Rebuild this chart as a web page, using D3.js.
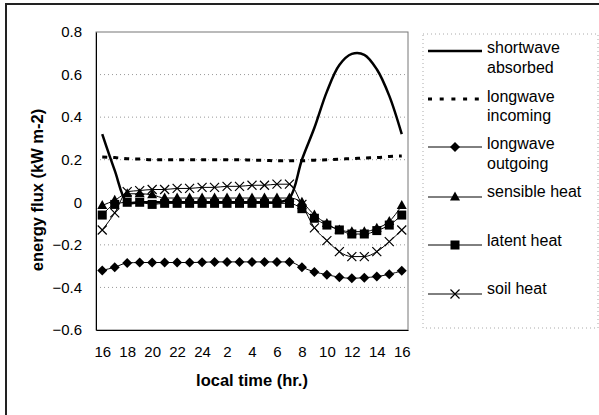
<!DOCTYPE html>
<html><head><meta charset="utf-8">
<script src="https://cdn.jsdelivr.net/npm/d3@7"></script>
<style>
html,body{margin:0;padding:0;background:#fff;}
text{font-family:"Liberation Sans",Arial,sans-serif;fill:#000;}
</style></head>
<body>
<svg id="c" width="599" height="415"></svg>
<script>
// ---- data ----
const hours = [16,17,18,19,20,21,22,23,24,1,2,3,4,5,6,7,8,9,10,11,12,13,14,15,16];
const shortwave = [0.32,0.15,0.0,0,0,0,0,0,0,0,0,0,0,0,0,0.02,0.2,0.35,0.52,0.645,0.697,0.693,0.625,0.50,0.32];
const longwaveIn = [0.213,0.21,0.205,0.203,0.2,0.2,0.2,0.2,0.2,0.2,0.2,0.2,0.198,0.197,0.195,0.195,0.195,0.198,0.2,0.203,0.205,0.208,0.21,0.215,0.218];
const longwaveOut = [-0.32,-0.305,-0.285,-0.283,-0.283,-0.283,-0.283,-0.283,-0.282,-0.28,-0.28,-0.28,-0.28,-0.28,-0.28,-0.28,-0.305,-0.327,-0.34,-0.352,-0.357,-0.354,-0.349,-0.338,-0.322];
const sensible = [-0.015,0.01,0.04,0.04,0.035,0.02,0.02,0.02,0.02,0.02,0.02,0.02,0.02,0.02,0.02,0.02,0.0,-0.06,-0.1,-0.13,-0.138,-0.138,-0.122,-0.09,-0.015];
const latent = [-0.06,-0.01,0,0,-0.01,-0.005,-0.005,-0.005,-0.005,-0.005,-0.005,-0.005,-0.005,-0.005,-0.005,-0.005,-0.03,-0.075,-0.107,-0.13,-0.149,-0.149,-0.133,-0.107,-0.06];
const soil = [-0.13,-0.05,0.05,0.055,0.06,0.06,0.065,0.065,0.07,0.07,0.075,0.075,0.08,0.08,0.085,0.085,-0.01,-0.12,-0.18,-0.232,-0.255,-0.255,-0.232,-0.185,-0.13];
const yTicks = [0.8,0.6,0.4,0.2,0,-0.2,-0.4,-0.6];
const gridVals = [0.6,0.4,0.2,-0.2,-0.4];
const seriesNames = [["shortwave","absorbed"],["longwave","incoming"],["longwave","outgoing"],["sensible heat"],["latent heat"],["soil heat"]];

// ---- layout ----
const svg = d3.select("#c");
const L=96,R=408,T=32,B=330;
const x = d3.scalePoint().domain(d3.range(hours.length)).range([L,R]).padding(0.5);
const y = d3.scaleLinear().domain([-0.6,0.8]).range([B,T]);

// outer frame (left & top visible)
svg.append("rect").attr("x",6).attr("y",4).attr("width",640).attr("height",460)
  .attr("fill","none").attr("stroke","#222").attr("stroke-width",2);

// gridlines
svg.append("g").selectAll("line").data(gridVals).join("line")
  .attr("x1",L).attr("x2",R).attr("y1",d=>y(d)).attr("y2",d=>y(d))
  .attr("stroke","#999").attr("stroke-width",1).attr("stroke-dasharray","1,3");

// plot border
svg.append("rect").attr("x",L).attr("y",T).attr("width",R-L).attr("height",B-T)
  .attr("fill","none").attr("stroke","#777").attr("stroke-width",1);

// axes
const ya = svg.append("g").attr("transform",`translate(${L},0)`)
  .call(d3.axisLeft(y).tickValues(yTicks).tickSize(0).tickPadding(14).tickFormat(d=>d===0?"0":d3.format(".1f")(d)));
ya.select(".domain").attr("stroke","#000");
ya.selectAll("text").style("font-size","15px");

const xa = svg.append("g").attr("transform",`translate(0,${B})`)
  .call(d3.axisBottom(x).tickValues(d3.range(0,hours.length,2)).tickSize(0).tickPadding(16).tickFormat(i=>hours[i]));
xa.select(".domain").attr("stroke","#000");
xa.selectAll("text").style("font-size","15px");

// axis titles
svg.append("text").attr("transform","translate(43,190) rotate(-90)").attr("text-anchor","middle")
  .style("font-size","16.5px").style("font-weight","bold").text("energy flux (kW m-2)");
svg.append("text").attr("x",252).attr("y",386).attr("text-anchor","middle")
  .style("font-size","16.5px").style("font-weight","bold").text("local time (hr.)");

// markers
function marker(g,type,cx,cy){
  if(type==="diamond"){
    g.append("path").attr("d",`M${cx},${cy-5}L${cx+5},${cy}L${cx},${cy+5}L${cx-5},${cy}Z`).attr("fill","#000");
  } else if(type==="triangle"){
    g.append("path").attr("d",`M${cx},${cy-5.5}L${cx+5},${cy+3.5}L${cx-5},${cy+3.5}Z`).attr("fill","#000");
  } else if(type==="square"){
    g.append("rect").attr("x",cx-4.5).attr("y",cy-4.5).attr("width",9).attr("height",9).attr("fill","#000");
  } else if(type==="x"){
    g.append("path").attr("d",`M${cx-4.5},${cy-4.5}L${cx+4.5},${cy+4.5}M${cx-4.5},${cy+4.5}L${cx+4.5},${cy-4.5}`)
      .attr("stroke","#000").attr("stroke-width",1.2).attr("fill","none");
  }
}

const series = [
  {v:shortwave, w:2.5, dash:null, m:null, c:d3.curveCatmullRom.alpha(0.5)},
  {v:longwaveIn, w:3, dash:"5,6", m:null, c:d3.curveMonotoneX},
  {v:longwaveOut, w:1, dash:null, m:"diamond", c:d3.curveMonotoneX},
  {v:sensible, w:1, dash:null, m:"triangle", c:d3.curveMonotoneX},
  {v:latent, w:1, dash:null, m:"square", c:d3.curveMonotoneX},
  {v:soil, w:1, dash:null, m:"x", c:d3.curveMonotoneX}
];
const plot = svg.append("g");
series.forEach(s=>{
  const line = d3.line().x((d,i)=>x(i)).y(d=>y(d)).curve(s.c);
  const p = plot.append("path").datum(s.v).attr("d",line).attr("fill","none")
    .attr("stroke","#000").attr("stroke-width",s.w);
  if(s.dash) p.attr("stroke-dasharray",s.dash);
  if(s.m){ const g=plot.append("g"); s.v.forEach((d,i)=>marker(g,s.m,x(i),y(d))); }
});

// legend
svg.append("rect").attr("x",423).attr("y",34).attr("width",175).attr("height",294)
  .attr("fill","none").attr("stroke","#aaa").attr("stroke-width",1).attr("stroke-dasharray","1,3");
const legY = [51,99,147,197,245,294];
const legBase = [[53,73],[101.5,121],[148.5,168.5],[197],[246],[294]];
const lg = svg.append("g");
series.forEach((s,k)=>{
  const ly = legY[k];
  const p = lg.append("line").attr("x1",428).attr("x2",482).attr("y1",ly).attr("y2",ly)
    .attr("stroke","#000").attr("stroke-width",s.w);
  if(s.dash) p.attr("stroke-dasharray","4,7.7");
  if(s.m) marker(lg,s.m,455,ly);
  seriesNames[k].forEach((t,j)=>{
    lg.append("text").attr("x",487).attr("y",legBase[k][j]).style("font-size","16px").text(t);
  });
});
</script>
</body></html>
